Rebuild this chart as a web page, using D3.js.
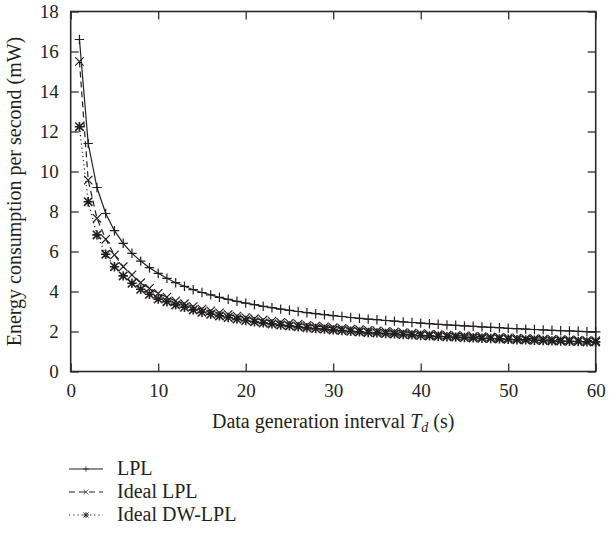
<!DOCTYPE html>
<html>
<head>
<meta charset="utf-8">
<script src="https://cdn.jsdelivr.net/npm/d3@7"></script>
<style>
  body { margin: 0; background: #fff; }
  svg text { font-family: "Liberation Serif", "DejaVu Serif", serif; fill: #231f20; }
</style>
</head>
<body>
<div id="chart"></div>
<script>
// Data generation interval Td (s), 1..60
const intervals = d3.range(1, 61);

// Energy consumption per second (mW)
const lplValues = [
  16.6, 11.4, 9.2, 7.9, 7.04, 6.41, 5.91, 5.52, 5.19, 4.91,
  4.66, 4.44, 4.26, 4.09, 3.95, 3.83, 3.71, 3.61, 3.51, 3.42,
  3.34, 3.26, 3.19, 3.12, 3.06, 3.00, 2.94, 2.89, 2.84, 2.79,
  2.75, 2.70, 2.66, 2.62, 2.59, 2.55, 2.52, 2.48, 2.45, 2.42,
  2.39, 2.36, 2.33, 2.31, 2.28, 2.26, 2.23, 2.21, 2.19, 2.16,
  2.14, 2.12, 2.10, 2.08, 2.06, 2.04, 2.03, 2.01, 1.99, 1.98
];
const idealLplValues = [
  15.5, 9.57, 7.66, 6.61, 5.83, 5.24, 4.83, 4.44, 4.16, 3.91,
  3.72, 3.53, 3.39, 3.25, 3.12, 3.03, 2.93, 2.85, 2.77, 2.70,
  2.64, 2.58, 2.52, 2.46, 2.42, 2.37, 2.31, 2.27, 2.23, 2.19,
  2.16, 2.12, 2.09, 2.06, 2.03, 2.00, 1.98, 1.95, 1.92, 1.90,
  1.86, 1.84, 1.82, 1.80, 1.78, 1.76, 1.74, 1.72, 1.71, 1.68,
  1.67, 1.65, 1.64, 1.62, 1.61, 1.59, 1.58, 1.57, 1.55, 1.54
];
const idealDwLplValues = [
  12.24, 8.49, 6.83, 5.86, 5.24, 4.78, 4.41, 4.11, 3.86, 3.62,
  3.49, 3.33, 3.21, 3.08, 2.96, 2.86, 2.78, 2.70, 2.62, 2.55,
  2.49, 2.43, 2.38, 2.32, 2.28, 2.24, 2.19, 2.15, 2.12, 2.08,
  2.05, 2.01, 1.98, 1.95, 1.93, 1.90, 1.88, 1.85, 1.83, 1.80,
  1.78, 1.76, 1.74, 1.72, 1.70, 1.68, 1.66, 1.65, 1.63, 1.61,
  1.59, 1.58, 1.56, 1.55, 1.53, 1.52, 1.51, 1.50, 1.48, 1.48
];

const seriesNames = ["LPL", "Ideal LPL", "Ideal DW-LPL"];
const xTicks = [0, 10, 20, 30, 40, 50, 60];
const yTicks = [0, 2, 4, 6, 8, 10, 12, 14, 16, 18];

const width = 609;
const height = 536;
const margin = { left: 70.7, right: 13.3, top: 11.5, bottom: 164.5 };
const ink = "#231f20";
const serif = '"Liberation Serif", "DejaVu Serif", serif';

const series = [
  { name: seriesNames[0], values: lplValues, dash: null, marker: "plus" },
  { name: seriesNames[1], values: idealLplValues, dash: "6,4", marker: "cross" },
  { name: seriesNames[2], values: idealDwLplValues, dash: "1.2,3", marker: "star" }
];

const svg = d3.select("#chart").append("svg")
  .attr("width", width)
  .attr("height", height);

const x = d3.scaleLinear().domain([0, 60]).range([margin.left, width - margin.right]);
const y = d3.scaleLinear().domain([0, 18]).range([height - margin.bottom, margin.top]);

// --- axes: box with inward ticks on all sides ---
const tickLen = 8;
const axisStyle = sel => {
  sel.attr("font-family", null).attr("font-size", null);
  sel.select(".domain").remove();
  sel.selectAll("line").attr("stroke", ink).attr("stroke-width", 1.2);
  sel.selectAll("text")
    .style("font-family", serif)
    .style("font-size", "19px")
    .attr("fill", ink);
};

svg.append("g")
  .attr("transform", `translate(0,${y(0)})`)
  .call(d3.axisBottom(x).tickValues(xTicks).tickSize(-tickLen).tickPadding(12))
  .call(axisStyle);

svg.append("g")
  .attr("transform", `translate(0,${y(18)})`)
  .call(d3.axisTop(x).tickValues(xTicks).tickSize(-tickLen).tickFormat(""))
  .call(axisStyle);

svg.append("g")
  .attr("transform", `translate(${x(0)},0)`)
  .call(d3.axisLeft(y).tickValues(yTicks).tickSize(-tickLen).tickPadding(12))
  .call(axisStyle);

svg.append("g")
  .attr("transform", `translate(${x(60)},0)`)
  .call(d3.axisRight(y).tickValues(yTicks).tickSize(-tickLen).tickFormat(""))
  .call(axisStyle);

svg.append("rect")
  .attr("x", x(0)).attr("y", y(18))
  .attr("width", x(60) - x(0)).attr("height", y(0) - y(18))
  .attr("fill", "none").attr("stroke", "#2a2a2a").attr("stroke-width", 1.6);

// --- markers ---
function drawMarker(g, type, cx, cy) {
  const s = 4.2;
  const path = d3.path();
  if (type === "plus" || type === "star") {
    path.moveTo(cx - s - 0.5, cy); path.lineTo(cx + s + 0.5, cy);
    path.moveTo(cx, cy - s - 0.5); path.lineTo(cx, cy + s + 0.5);
  }
  if (type === "cross" || type === "star") {
    path.moveTo(cx - s, cy - s); path.lineTo(cx + s, cy + s);
    path.moveTo(cx - s, cy + s); path.lineTo(cx + s, cy - s);
  }
  g.append("path")
    .attr("d", path.toString())
    .attr("stroke", ink)
    .attr("stroke-width", type === "star" ? 1.6 : 1.2)
    .attr("fill", "none");
  if (type === "star") {
    g.append("circle").attr("cx", cx).attr("cy", cy).attr("r", 1.8).attr("fill", ink);
  }
}

const line = d3.line()
  .x((d, i) => x(intervals[i]))
  .y(d => y(d));

const plot = svg.append("g");
series.forEach(s => {
  plot.append("path")
    .datum(s.values)
    .attr("d", line)
    .attr("fill", "none")
    .attr("stroke", ink)
    .attr("stroke-width", 1.2)
    .attr("stroke-dasharray", s.dash);
  const mg = plot.append("g");
  s.values.forEach((v, i) => drawMarker(mg, s.marker, x(intervals[i]), y(v)));
});

// --- axis titles ---
const xLabel = svg.append("text")
  .attr("x", (x(0) + x(60)) / 2)
  .attr("y", 428)
  .attr("text-anchor", "middle")
  .style("font-size", "20px");
xLabel.append("tspan").text("Data generation interval ");
xLabel.append("tspan").style("font-style", "italic").text("T");
xLabel.append("tspan").style("font-style", "italic").style("font-size", "14px").attr("dy", 4).text("d");
xLabel.append("tspan").attr("dy", -4).text(" (s)");

svg.append("text")
  .attr("transform", `translate(21,${(y(0) + y(18)) / 2}) rotate(-90)`)
  .attr("text-anchor", "middle")
  .style("font-size", "20px")
  .text("Energy consumption per second (mW)");

// --- legend ---
const legend = svg.append("g");
series.forEach((s, i) => {
  const ly = 469 + i * 23;
  legend.append("line")
    .attr("x1", 69).attr("x2", 103)
    .attr("y1", ly).attr("y2", ly)
    .attr("stroke", ink).attr("stroke-width", 1.2)
    .attr("stroke-dasharray", s.dash);
  const mg = legend.append("g").attr("transform", `translate(86,${ly}) scale(0.6)`);
  drawMarker(mg, s.marker, 0, 0);
  legend.append("text")
    .attr("x", 117).attr("y", ly + 6)
    .style("font-size", "20px")
    .text(s.name);
});
</script>
</body>
</html>
